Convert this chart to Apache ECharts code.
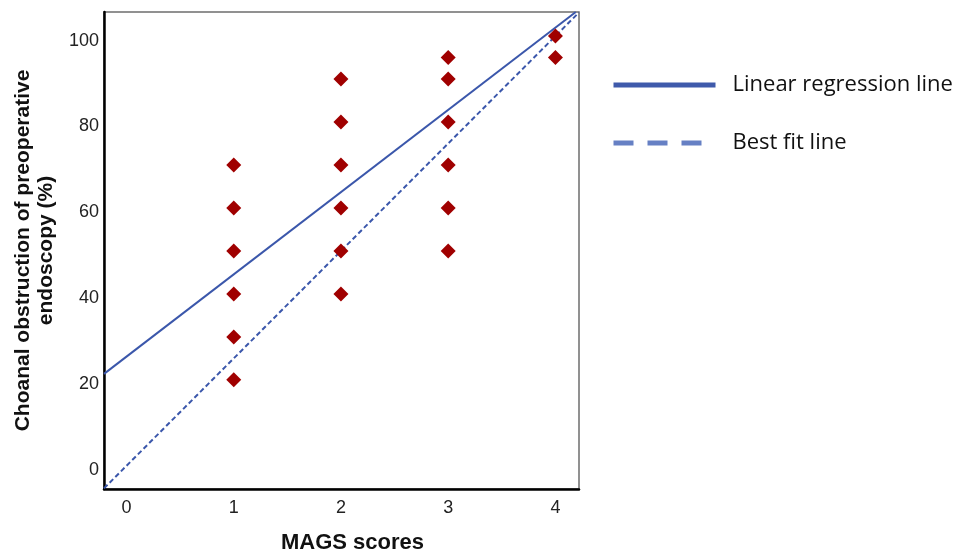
<!DOCTYPE html>
<html>
<head>
<meta charset="utf-8">
<script src="https://cdn.jsdelivr.net/npm/echarts@6/dist/echarts.min.js"></script>
<style>
  html, body { margin: 0; padding: 0; background: #ffffff; }
  #chart { width: 973px; height: 551px; }
</style>
</head>
<body>
<div id="chart"></div>
<script>
// ---- data ----
const magsScores = [1, 1, 1, 1, 1, 1, 2, 2, 2, 2, 2, 2, 3, 3, 3, 3, 3, 3, 4, 4];
const obstruction = [70, 60, 50, 40, 30, 20, 90, 80, 70, 60, 50, 40, 95, 90, 80, 70, 60, 50, 100, 95];
const xTickValues = [0, 1, 2, 3, 4];
const yTickValues = [0, 20, 40, 60, 80, 100];
const regressionX = [-0.21, 4.19];
const regressionY = [21.4, 105.6];
const bestFitX = [-0.21, 4.22];
const bestFitY = [-5.25, 105.5];
const seriesNames = ['Linear regression line', 'Best fit line'];
const xAxisTitle = 'MAGS scores';
const yAxisTitle = 'Choanal obstruction of preoperative\nendoscopy (%)';

const pts = magsScores.map((x, i) => [x, obstruction[i]]);
const regLine = regressionX.map((x, i) => [x, regressionY[i]]);
const bestLine = bestFitX.map((x, i) => [x, bestFitY[i]]);

const chart = echarts.init(document.getElementById('chart'), null, { renderer: 'canvas' });
chart.setOption({
  animation: false,
  backgroundColor: '#ffffff',
  grid: {
    left: 104, right: 394, top: 12, bottom: 62,
    outerBoundsMode: 'none',
    containLabel: false,
    show: true, borderColor: '#6e6e6e', borderWidth: 1.5, backgroundColor: 'transparent'
  },
  legend: {
    orient: 'vertical',
    left: 611,
    top: 74,
    padding: 0,
    itemWidth: 102,
    itemHeight: 14,
    itemGap: 36,
    selectedMode: false,
    itemStyle: { opacity: 0 },
    textStyle: { fontFamily: 'Open Sans', fontSize: 22, color: '#111111', padding: [0, 0, 0, 12] },
    data: [
      { name: seriesNames[0], lineStyle: { color: '#3f5aab', width: 5, type: 'solid' } },
      { name: seriesNames[1], lineStyle: { color: '#6680c4', width: 5, type: [20, 14] } }
    ]
  },
  xAxis: {
    type: 'value',
    min: -0.21,
    max: 4.22,
    name: xAxisTitle,
    nameLocation: 'middle',
    nameGap: 43,
    nameTextStyle: { fontFamily: 'Liberation Sans', fontWeight: 'bold', fontSize: 22, color: '#111111', padding: [0, 0, 0, 22] },
    axisLine: { show: true, onZero: false, lineStyle: { color: '#000000', width: 2.5 } },
    axisTick: { show: false },
    splitLine: { show: false },
    axisLabel: {
      customValues: xTickValues,
      margin: 10,
      fontFamily: 'Liberation Sans', fontSize: 18, color: '#222222'
    }
  },
  yAxis: {
    type: 'value',
    min: -5.4,
    max: 105.6,
    name: yAxisTitle,
    nameLocation: 'middle',
    nameGap: 46,
    nameTextStyle: { fontFamily: 'Liberation Sans', fontWeight: 'bold', fontSize: 21, color: '#111111', lineHeight: 23, align: 'center' },
    axisLine: { show: true, onZero: false, lineStyle: { color: '#000000', width: 2.5 } },
    axisTick: { show: false },
    splitLine: { show: false },
    axisLabel: {
      customValues: yTickValues,
      margin: 5,
      verticalAlign: 'top',
      lineHeight: 9,
      fontFamily: 'Liberation Sans', fontSize: 18, color: '#222222'
    }
  },
  series: [
    {
      name: seriesNames[0],
      type: 'line',
      data: regLine,
      symbol: 'none',
      lineStyle: { color: '#3b57ab', width: 2 },
      z: 3
    },
    {
      name: seriesNames[1],
      type: 'line',
      data: bestLine,
      symbol: 'none',
      lineStyle: { color: '#3b57ab', width: 2, type: [5, 3] },
      z: 3
    },
    {
      name: 'points',
      type: 'scatter',
      data: pts,
      symbol: 'diamond',
      symbolSize: 15,
      itemStyle: { color: '#a00000', opacity: 1 },
      z: 4
    }
  ]
});
</script>
</body>
</html>
